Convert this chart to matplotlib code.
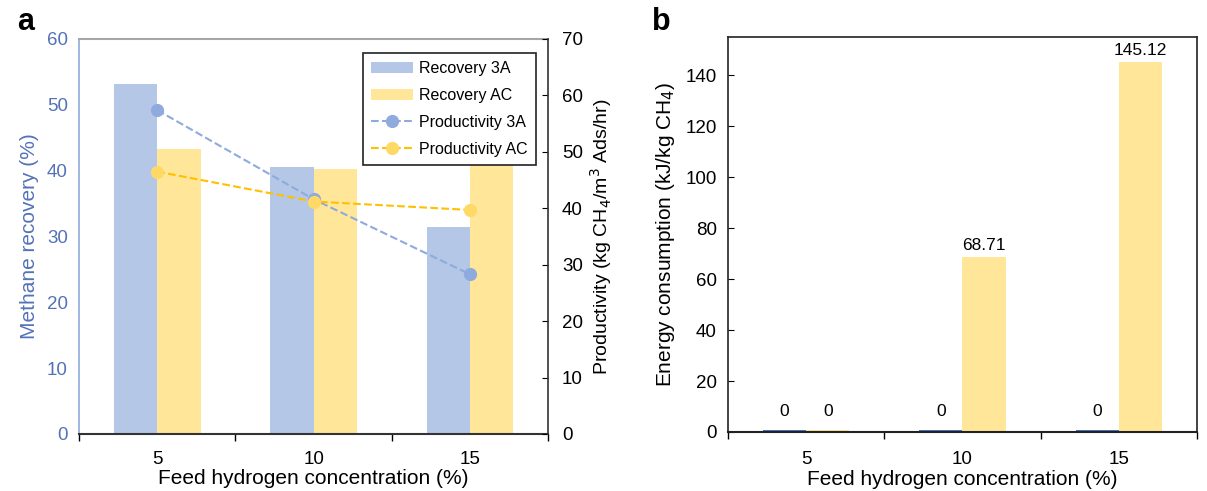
import matplotlib
matplotlib.use('Agg')
import matplotlib.pyplot as plt
import numpy as np

plt.rcParams['font.family'] = ['Liberation Sans', 'DejaVu Sans']

# data
feed_h2 = ['5', '10', '15']
recovery_3a = [53.2, 40.6, 31.5]
recovery_ac = [43.3, 40.3, 41.1]
prod_3a = [57.4, 41.6, 28.3]
prod_ac = [46.5, 41.2, 39.7]
energy_3a = [0, 0, 0]
energy_ac = [0, 68.71, 145.12]

c_3a = '#B4C7E7'
c_ac = '#FFE699'
c_line3a = '#8FAADC'
c_lineac = '#FFC000'
c_mkac = '#FFD966'
c_blue_txt = '#5472B8'

fig = plt.figure(figsize=(12.07, 4.91), dpi=100)
x = np.arange(len(feed_h2))
w = 0.277

# ---- panel a
ax = fig.add_axes([0.0655, 0.1161, 0.3886, 0.8045])
b1 = ax.bar(x, recovery_3a, width=-w, align='edge', color=c_3a, label='Recovery 3A')
b2 = ax.bar(x, recovery_ac, width=w, align='edge', color=c_ac, label='Recovery AC')
ax.set_xlim(-0.5, 2.5)
ax.set_ylim(0, 60)
ax.set_yticks(np.arange(0, 61, 10))
ax.set_xticks(x)
ax.set_xticklabels(feed_h2)
ax.set_xticks([-0.5, 0.5, 1.5, 2.5], minor=True)
ax.tick_params(axis='x', which='major', length=0, labelsize=13.5, pad=12)
ax.tick_params(axis='x', which='minor', length=5, width=1, direction='out')
ax.tick_params(axis='y', length=0, labelsize=13.5, labelcolor=c_blue_txt, pad=8)
ax.set_xlabel('Feed hydrogen concentration (%)', fontsize=15, labelpad=1)
ax.set_ylabel('Methane recovery (%)', fontsize=15, color=c_blue_txt, labelpad=6)
ax.spines['left'].set_color(c_line3a)
ax.spines['left'].set_linewidth(1.2)
ax.spines['top'].set_color('#A6A6A6')
ax.spines['top'].set_linewidth(1.5)
ax.spines['bottom'].set_color('#333333')
ax.spines['bottom'].set_linewidth(1.5)
ax.spines['right'].set_visible(False)

ax2 = ax.twinx()
l1, = ax2.plot(x, prod_3a, '--o', color=c_line3a, markerfacecolor=c_line3a,
               markeredgecolor=c_line3a, markersize=8.5, lw=1.5, label='Productivity 3A')
l2, = ax2.plot(x, prod_ac, '--o', color=c_lineac, markerfacecolor=c_mkac,
               markeredgecolor=c_mkac, markersize=8.5, lw=1.5, label='Productivity AC')
ax2.set_ylim(0, 70)
ax2.set_yticks(np.arange(0, 71, 10))
ax2.tick_params(axis='y', direction='in', length=4, labelsize=13.5, pad=10)
ax2.set_ylabel('Productivity (kg CH$_4$/m$^3$ Ads/hr)', fontsize=14, labelpad=4)
for s in ['left', 'top', 'bottom']:
    ax2.spines[s].set_visible(False)
ax2.spines['right'].set_color('#333333')
ax2.spines['right'].set_linewidth(1.2)

leg = ax2.legend([b1, b2, l1, l2], ['Recovery 3A', 'Recovery AC', 'Productivity 3A', 'Productivity AC'],
                 loc='upper right', bbox_to_anchor=(0.991, 0.985), fontsize=11.5, fancybox=False,
                 framealpha=1, edgecolor='#222222', handlelength=2.6, labelspacing=0.75,
                 borderpad=0.5, handletextpad=0.4)
leg.get_frame().set_linewidth(1.2)

fig.text(0.014, 0.955, 'a', fontsize=22, fontweight='bold', va='center')

# ---- panel b
bx = fig.add_axes([0.6031, 0.1202, 0.3886, 0.8045])
floor = 0.8  # so that zero bars stay visible as a thin line
bx.bar(x, [max(v, floor) for v in energy_3a], width=-w, align='edge', color='#4472C4')
bx.bar(x, [max(v, floor) for v in energy_ac], width=w, align='edge', color=c_ac)
for i in range(len(x)):
    for xo, v in [(x[i] - w / 2, energy_3a[i]), (x[i] + w / 2, energy_ac[i])]:
        off = 8 if v == 0 else 3
        bx.annotate(f'{v:g}', (xo, max(v, floor)), xytext=(0, off), textcoords='offset points',
                    ha='center', va='bottom', fontsize=12.5)
bx.set_xlim(-0.5, 2.5)
bx.set_ylim(0, 155)
bx.set_yticks(np.arange(0, 141, 20))
bx.set_xticks(x)
bx.set_xticklabels(feed_h2)
bx.set_xticks([-0.5, 0.5, 1.5, 2.5], minor=True)
bx.tick_params(axis='x', which='major', length=0, labelsize=13.5, pad=14)
bx.tick_params(axis='x', which='minor', length=5, width=1, direction='out')
bx.tick_params(axis='y', direction='in', length=4, labelsize=13.5, pad=8)
bx.set_xlabel('Feed hydrogen concentration (%)', fontsize=15, labelpad=1)
bx.set_ylabel('Energy consumption (kJ/kg CH$_4$)', fontsize=15, labelpad=6)
for s in bx.spines.values():
    s.set_color('#222222')
    s.set_linewidth(1.2)
bx.spines['bottom'].set_linewidth(1.5)

fig.text(0.54, 0.955, 'b', fontsize=22, fontweight='bold', va='center')

fig.savefig('out.png', dpi=100)
